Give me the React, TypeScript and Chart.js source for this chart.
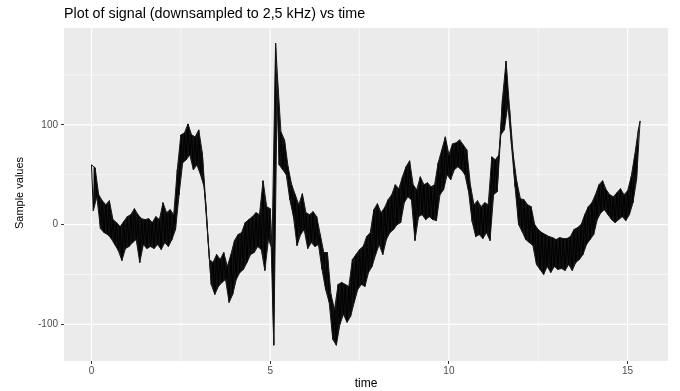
import React, { useEffect, useRef } from "react";
import { Chart, registerables } from "chart.js";

Chart.register(...registerables);

const chartTitle = "Plot of signal (downsampled to 2,5 kHz) vs time";
const xAxisTitle = "time";
const yAxisTitle = "Sample values";

const sampleStart = 0;
const sampleStep = 0.05;

const xTicks = [0, 5, 10, 15];
const yTicks = [-100, 0, 100];
const xMinorGrid = [2.5, 7.5, 12.5];
const yMinorGrid = [-50, 50, 150];
const xRange = [-0.77, 16.13];
const yRange = [-136.8, 197.2];

// Sample values (upper / lower swings of the noisy band)
const signal = [
  60, 14, 57, 28, 30, -4, 24, -8, 20, -10,
  24, -14, 5, -20, 2, -26, -2, -36, 3, -24,
  8, -22, 10, -18, 16, -15, 10, -38, 6, -20,
  5, -24, 6, -22, 2, -24, 8, -20, 5, -25,
  22, -18, 12, -22, 15, -15, 10, -5, 55, 30,
  90, 62, 92, 65, 101, 70, 90, 55, 88, 60,
  95, 50, 72, 38, 20, -10, -35, -60, -38, -70,
  -30, -62, -35, -58, -28, -55, -42, -78, -30, -70,
  -16, -55, -10, -48, -8, -45, 2, -38, 5, -30,
  8, -28, 12, -22, 10, -25, 44, -46, 18, -15,
  16, -24, -121, 182, 150, 60, 93, 55, 85, 50,
  58, 25, 40, 8, 30, -21, 20, -10, 31, -5,
  12, -24, 10, -18, 13, -22, 8, -20, -10, -45,
  -28, -65, -28, -78, -70, -115, -85, -121, -60, -100,
  -58, -90, -60, -98, -62, -92, -35, -78, -30, -65,
  -25, -60, -22, -62, -12, -48, -8, -42, 15, -30,
  21, -20, 12, -30, 17, -15, 25, -8, 30, -5,
  40, 0, 36, 2, 48, 22, 58, 28, 64, 25,
  40, -16, 35, 8, 48, 10, 40, 5, 42, 8,
  38, 5, 40, 4, 62, 30, 75, 35, 88, 50,
  70, 45, 81, 55, 82, 58, 85, 55, 80, 50,
  75, 33, 40, 3, 20, -12, 24, -10, 18, -14,
  22, -8, 20, -16, 68, 30, 65, 33, 70, 90,
  127, 95, 164, 120, 115, 80, 70, 38, 43, 0,
  26, -7, 25, -15, 20, -18, 18, -21, 0, -40,
  -5, -45, -8, -50, -10, -42, -12, -48, -13, -42,
  -15, -45, -13, -44, -14, -46, -14, -40, -12, -46,
  -5, -38, -3, -35, 0, -30, 10, -20, 18, -15,
  22, -10, 30, 5, 40, 12, 44, 15, 35, 10,
  30, 5, 28, 2, 32, 5, 36, 8, 30, 4,
  34, 10, 48, 22, 70, 45, 95, 104,
];

const FONT = '"Liberation Sans", Arial, Helvetica, sans-serif';

const panelPlugin = {
  id: "ggPanel",
  beforeDatasetsDraw(chart: any) {
    const { ctx, chartArea, scales } = chart;
    const { left, right, top, bottom } = chartArea;
    ctx.save();
    ctx.fillStyle = "#EBEBEB";
    ctx.fillRect(left, top, right - left, bottom - top);
    ctx.strokeStyle = "#FFFFFF";
    const vline = (v: number, w: number) => {
      const x = scales.x.getPixelForValue(v);
      ctx.lineWidth = w;
      ctx.beginPath();
      ctx.moveTo(x, top);
      ctx.lineTo(x, bottom);
      ctx.stroke();
    };
    const hline = (v: number, w: number) => {
      const y = scales.y.getPixelForValue(v);
      ctx.lineWidth = w;
      ctx.beginPath();
      ctx.moveTo(left, y);
      ctx.lineTo(right, y);
      ctx.stroke();
    };
    xMinorGrid.forEach((v) => vline(v, 0.6));
    yMinorGrid.forEach((v) => hline(v, 0.6));
    xTicks.forEach((v) => vline(v, 1.2));
    yTicks.forEach((v) => hline(v, 1.2));
    ctx.restore();
  },
  afterDraw(chart: any) {
    const { ctx, chartArea } = chart;
    ctx.save();
    ctx.fillStyle = "#000000";
    ctx.textBaseline = "middle";
    ctx.textAlign = "left";
    ctx.font = `14.3px ${FONT}`;
    ctx.fillText(chartTitle, chartArea.left, 14);
    ctx.textAlign = "center";
    ctx.font = `12px ${FONT}`;
    ctx.fillText(xAxisTitle, (chartArea.left + chartArea.right) / 2, 384);
    ctx.translate(20, 193);
    ctx.rotate(-Math.PI / 2);
    ctx.font = `11px ${FONT}`;
    ctx.fillText(yAxisTitle, 0, 0);
    ctx.restore();
  },
};

export default function App() {
  const canvasRef = useRef<HTMLCanvasElement | null>(null);

  useEffect(() => {
    if (!canvasRef.current) return;
    const points = signal.map((v, i) => ({ x: sampleStart + i * sampleStep, y: v }));
    const swingA = points.filter((_, i) => i % 2 === 0);
    const swingB = points.filter((_, i) => i % 2 === 1);
    const edge = {
      borderColor: "#1a1a1a",
      borderWidth: 1,
      borderJoinStyle: "bevel",
      pointRadius: 0,
      tension: 0,
    };
    const chart = new Chart(canvasRef.current, {
      type: "line",
      data: {
        datasets: [
          { ...edge, data: swingA, fill: false },
          { ...edge, data: swingB, fill: "-1", backgroundColor: "rgba(0,0,0,0.93)" },
          {
            data: points,
            borderColor: "#000000",
            borderWidth: 1,
            borderJoinStyle: "bevel",
            pointRadius: 0,
            tension: 0,
            fill: false,
          },
        ],
      },
      options: {
        animation: false,
        responsive: false,
        devicePixelRatio: 1,
        parsing: false,
        normalized: true,
        layout: { padding: { top: 28, right: 12, left: 0, bottom: 0 } },
        plugins: {
          legend: { display: false },
          title: { display: false },
          tooltip: { enabled: false },
          filler: { propagate: false },
        },
        scales: {
          x: {
            type: "linear",
            min: xRange[0],
            max: xRange[1],
            afterBuildTicks: (scale: any) => {
              scale.ticks = xTicks.map((v) => ({ value: v }));
            },
            afterFit: (scale: any) => {
              scale.height = 30;
            },
            border: { display: false },
            grid: {
              drawOnChartArea: false,
              drawTicks: true,
              tickLength: 3,
              tickColor: "#333333",
              tickWidth: 1,
            },
            ticks: {
              color: "#4D4D4D",
              padding: 1,
              font: { family: FONT, size: 10 },
              maxRotation: 0,
              callback: (v: any) => String(v),
            },
          },
          y: {
            type: "linear",
            min: yRange[0],
            max: yRange[1],
            afterBuildTicks: (scale: any) => {
              scale.ticks = yTicks.map((v) => ({ value: v }));
            },
            afterFit: (scale: any) => {
              scale.width = 64;
            },
            border: { display: false },
            grid: {
              drawOnChartArea: false,
              drawTicks: true,
              tickLength: 3,
              tickColor: "#333333",
              tickWidth: 1,
            },
            ticks: {
              color: "#4D4D4D",
              padding: 3,
              font: { family: FONT, size: 10 },
              callback: (v: any) => String(v),
            },
          },
        },
      },
      plugins: [panelPlugin],
    } as any);
    return () => chart.destroy();
  }, []);

  return (
    <div style={{ position: "fixed", left: 0, top: 0, width: 680, height: 391, background: "#FFFFFF" }}>
      <canvas ref={canvasRef} width={680} height={391} style={{ display: "block" }} />
    </div>
  );
}
